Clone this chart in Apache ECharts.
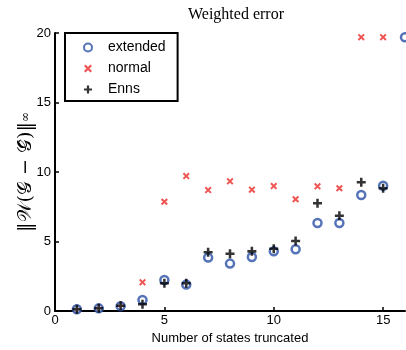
<!DOCTYPE html>
<html><head><meta charset="utf-8">
<script src="https://cdn.jsdelivr.net/npm/echarts@6/dist/echarts.min.js"></script>
<style>html,body{margin:0;padding:0;background:#fff}#c{width:406px;height:350px}</style>
</head><body><div id="c"></div>
<script>
const states = [1,2,3,4,5,6,7,8,9,10,11,12,13,14,15,16];
const extended = [0.12,0.19,0.35,0.79,2.23,1.9,3.84,3.41,3.88,4.29,4.44,6.33,6.33,8.35,9.01,19.7];
const normal = [0.12,0.19,0.38,2.06,7.86,9.71,8.7,9.33,8.73,8.99,8.04,8.97,8.83,19.7,19.7,null];
const enns = [0.12,0.19,0.38,0.48,1.99,1.99,4.22,4.12,4.29,4.48,5.04,7.75,6.86,9.26,8.83,null];
const xTicks = [0,5,10,15];
const yTicks = [0,5,10,15,20];

const pair = a => states.map((s,i)=>[s,a[i]]).filter(p=>p[1]!==null);
const plus = 'path://M-1.4,-5L1.4,-5L1.4,-1.4L5,-1.4L5,1.4L1.4,1.4L1.4,5L-1.4,5L-1.4,1.4L-5,1.4L-5,-1.4L-1.4,-1.4Z';
const cross = 'path://M-4,-2.4L-2.4,-4L4,2.4L2.4,4Z M4,-2.4L-2.4,4L-4,2.4L2.4,-4Z';
const chart = echarts.init(document.getElementById('c'));
chart.setOption({
  animation:false,
  title:{text:'Weighted error',left:231,textAlign:'center',top:2,
    textStyle:{fontFamily:'Liberation Serif',fontWeight:'normal',fontSize:16,color:'#000'}},
  grid:{left:55,right:1,top:33,bottom:39,containLabel:false,outerBoundsMode:'none'},
  legend:{orient:'vertical',left:65,top:33,itemGap:4,padding:[6,12,3,18],
    borderColor:'#000',borderWidth:2,itemWidth:10,itemHeight:8,
    textStyle:{fontFamily:'Liberation Sans',fontSize:14,color:'#000',lineHeight:17,padding:[0,0,0,10]},
    data:[{name:'extended',icon:'circle'},{name:'normal',icon:cross},{name:'Enns',icon:plus}]},
  xAxis:{type:'value',min:0,max:16,interval:5,
    name:'Number of states truncated',nameLocation:'middle',nameGap:20,
    nameTextStyle:{fontFamily:'Liberation Sans',fontSize:13,color:'#000'},
    axisLine:{lineStyle:{color:'#000',width:2}},
    axisTick:{inside:true,length:4,lineStyle:{color:'#000',width:1.5}},
    axisLabel:{fontFamily:'Liberation Sans',fontSize:13,color:'#000',margin:3,showMaxLabel:false,
      formatter:v=>xTicks.includes(v)?String(v):''},
    splitLine:{show:false}},
  yAxis:{type:'value',min:0,max:20,interval:5,
    name:'{a|‖𝒲(𝒢 − 𝒢̂)‖}{b|∞}',nameLocation:'middle',nameGap:16,nameRotate:90,nameMoveOverlap:false,
    nameTextStyle:{color:'#000',
      rich:{a:{fontFamily:'DejaVu Serif',fontSize:19,color:'#000',lineHeight:26},
            b:{fontFamily:'DejaVu Serif',fontSize:12,color:'#000',lineHeight:26}}},
    axisLine:{lineStyle:{color:'#000',width:2}},
    axisTick:{inside:true,length:4,lineStyle:{color:'#000',width:1.5}},
    axisLabel:{fontFamily:'Liberation Sans',fontSize:13,color:'#000',margin:4,
      formatter:v=>yTicks.includes(v)?String(v):''},
    splitLine:{show:false}},
  series:[
    {name:'extended',type:'scatter',data:pair(extended),symbol:'circle',symbolSize:8,
      itemStyle:{color:'#fff',borderColor:'#2b50a6',borderWidth:2.5},z:3},
    {name:'normal',type:'scatter',data:pair(normal),symbol:cross,symbolSize:7,
      itemStyle:{color:'#ea2b28'},z:2},
    {name:'Enns',type:'scatter',data:pair(enns),symbol:plus,symbolSize:9,
      itemStyle:{color:'#000'},z:4}
  ]
});
</script></body></html>
